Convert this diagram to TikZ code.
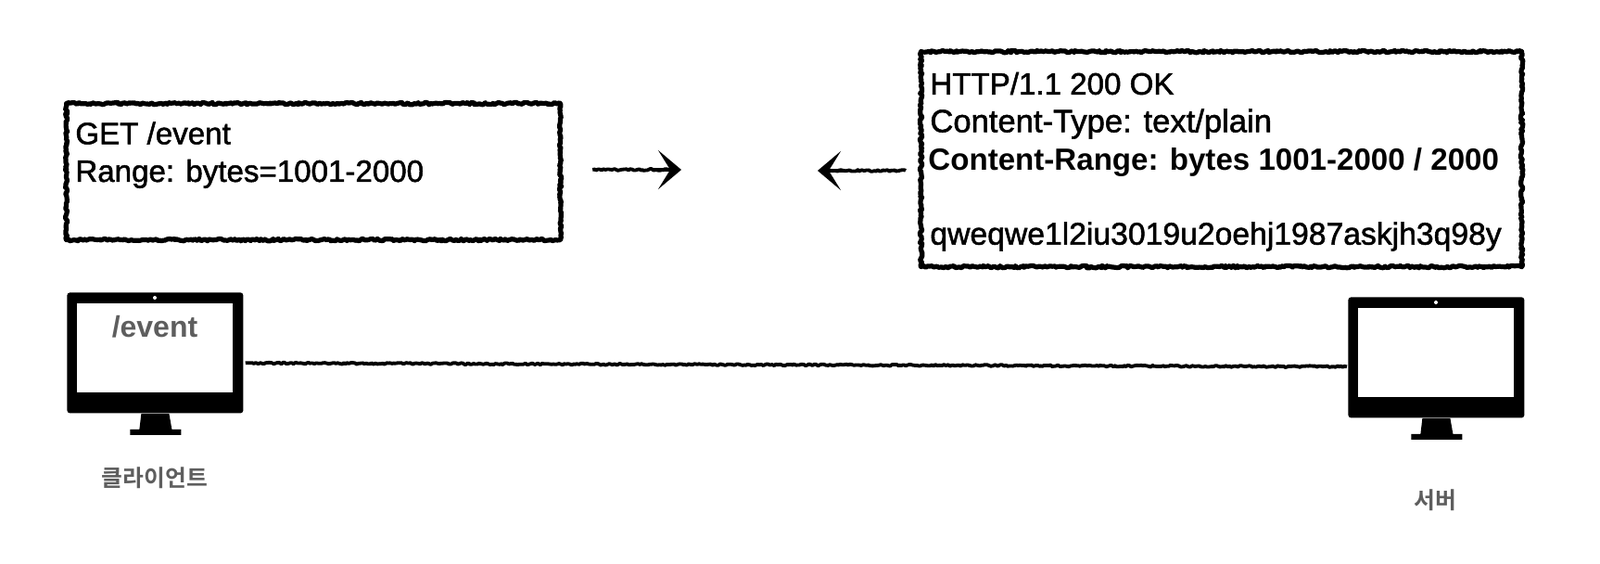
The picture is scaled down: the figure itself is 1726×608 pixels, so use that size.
\documentclass[tikz,border=0pt]{standalone}
\usepackage{fontspec}
\setmainfont{Liberation Sans}
\newfontfamily\msgfont{Liberation Sans}[FakeBold=1.5]
\newfontfamily\krfont{Noto Sans CJK KR}[BoldFont={* Bold}]
\usetikzlibrary{decorations.pathmorphing,arrows.meta,calc}
\definecolor{labelgray}{HTML}{5E5E5E}
\tikzset{
  x=0.5pt,y=-0.5pt,
  rough/.style={line width=2.6pt,line join=round,draw=black,decorate,decoration={random steps,segment length=1pt,amplitude=0.6pt}},
  roughthin/.style={line width=1.9pt,line join=round,draw=black,decorate,decoration={random steps,segment length=1pt,amplitude=0.45pt}},
  msgbox/.style={rectangle,anchor=north west,inner sep=0pt,rough},
  msgtext/.style={anchor=north west,inner sep=0pt,align=left,font=\msgfont\fontsize{16.55}{20.3}\selectfont},
  monbody/.style={rectangle,fill=black,rounded corners=1.5pt,minimum width=95pt,minimum height=65pt,inner sep=0pt,anchor=north west},
  monscreen/.style={rectangle,fill=white,minimum width=84pt,minimum height=48pt,inner sep=0pt},
  moncam/.style={circle,fill=white,minimum size=2pt,inner sep=0pt},
  grayhead/.style={text=labelgray,font=\fontsize{16}{20}\selectfont\bfseries,inner sep=0pt},
  krlabel/.style={text=labelgray,font=\krfont\fontsize{12.4}{14}\selectfont\bfseries,inner sep=0pt},
  headtip/.style={-{Stealth[length=12.5pt,width=21pt,inset=6.5pt]},line width=1.9pt},
}
\begin{document}
\begin{tikzpicture}
\useasboundingbox (0,0) rectangle (1726,608);
\fill[white] (0,0) rectangle (1726,608);
% message boxes
\node[msgbox,minimum width=266.5pt,minimum height=73.5pt] (req) at (69,109) {};
\node[msgbox,minimum width=324pt,minimum height=116pt] (res) at (991,53) {};
\node[msgtext] (reqtext) at (81,131) {GET /event\\Range: bytes=1001-2000};
\node[msgtext] (restext) at (1003,77.5) {HTTP/1.1 200 OK\\{\fontsize{17.3}{20.3}\selectfont Content-Type: text/plain}\\\hspace*{-1pt}{\setmainfont{Liberation Sans}\bfseries Content-Range: bytes 1001-2000 / 2000}\\[20pt]{\fontsize{16.85}{20.3}\selectfont qweqwe1l2iu3019u2oehj1987askjh3q98y}};
% arrows
\coordinate (a1) at (735,183);
\coordinate (a2) at (882,184);
\draw[roughthin] ([shift={(32,0)}]req.east |- a1) -- ($(a1)+(-14,0)$);
\draw[headtip] ($(a1)+(-30,0)$) -- (a1);
\draw[roughthin] ([shift={(-14,0)}]res.west |- a2) -- ($(a2)+(14,0)$);
\draw[headtip] ($(a2)+(30,0)$) -- (a2);
% client monitor
\node[monbody] (client) at (72,315) {};
\node[monscreen] (cscreen) at (167,375) {};
\node[moncam] (ccam) at (167,321) {};
\fill (client.south) ++(-15,0) -- ++(30,0) -- ++(3,17) -- ++(10,0) -- ++(0,6) -- ++(-55,0) -- ++(0,-6) -- ++(10,0) -- cycle;
\node[grayhead] (cpage) at (167,352) {/event};
\node[krlabel] (clabel) at (167,515) {클라이언트};
% server monitor
\node[monbody] (server) at (1454,320) {};
\node[monscreen] (sscreen) at (1549,380) {};
\node[moncam] (scam) at (1549,326) {};
\fill (server.south) ++(-15,0) -- ++(30,0) -- ++(3,17) -- ++(10,0) -- ++(0,6) -- ++(-55,0) -- ++(0,-6) -- ++(10,0) -- cycle;
\node[krlabel] (slabel) at (1548,539) {서버};
% connection
\draw[roughthin] ([shift={(2,11)}]client.east) -- ([shift={(-1,10)}]server.west);
\end{tikzpicture}
\end{document}
